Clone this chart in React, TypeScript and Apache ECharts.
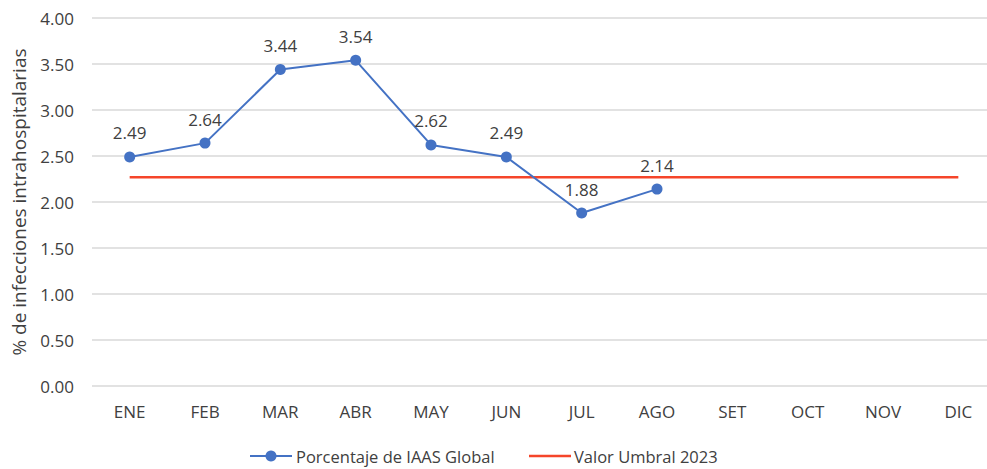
import React, { useEffect, useRef } from "react";
import * as echarts from "echarts";

const months = ["ENE", "FEB", "MAR", "ABR", "MAY", "JUN", "JUL", "AGO", "SET", "OCT", "NOV", "DIC"];
const iaasGlobal: (number | null)[] = [2.49, 2.64, 3.44, 3.54, 2.62, 2.49, 1.88, 2.14, null, null, null, null];
const threshold2023 = [2.27, 2.27, 2.27, 2.27, 2.27, 2.27, 2.27, 2.27, 2.27, 2.27, 2.27, 2.27];
const yTicks = { min: 0, max: 4, interval: 0.5 };
const seriesNames = ["Porcentaje de IAAS Global", "Valor Umbral 2023"];

const FONT = "Open Sans";
const TEXT = "#404040";
const BLUE = "#4472C4";
const RED = "#F5452A";

export default function App() {
  const ref = useRef<HTMLDivElement>(null);
  useEffect(() => {
    if (!ref.current) return;
    const chart = echarts.init(ref.current, null, { renderer: "svg" });
    const ly = 456;
    chart.setOption({
      animation: false,
      backgroundColor: "#ffffff",
      textStyle: { fontFamily: FONT },
      grid: { left: 92, width: 904, top: 18, bottom: 83, outerBoundsMode: "none", containLabel: false },
      legend: { show: false },
      graphic: [
        { type: "line", shape: { x1: 250, y1: ly, x2: 292, y2: ly }, style: { stroke: BLUE, lineWidth: 2 } },
        { type: "circle", shape: { cx: 271, cy: ly, r: 5.5 }, style: { fill: BLUE } },
        {
          type: "text",
          x: 296,
          y: ly,
          style: { text: seriesNames[0], fontFamily: FONT, fontSize: 16.5, fill: TEXT, verticalAlign: "middle" },
        },
        { type: "line", shape: { x1: 529, y1: ly, x2: 571, y2: ly }, style: { stroke: RED, lineWidth: 2.5 } },
        {
          type: "text",
          x: 574,
          y: ly,
          style: { text: seriesNames[1], fontFamily: FONT, fontSize: 16.5, fill: TEXT, verticalAlign: "middle" },
        },
      ],
      xAxis: {
        type: "category",
        data: months,
        boundaryGap: true,
        axisLine: { show: false },
        axisTick: { show: false },
        axisLabel: { fontFamily: FONT, fontSize: 17, color: TEXT, margin: 17 },
      },
      yAxis: {
        type: "value",
        min: yTicks.min,
        max: yTicks.max,
        interval: yTicks.interval,
        name: "% de infecciones intrahospitalarias",
        nameLocation: "middle",
        nameGap: 64,
        nameRotate: 90,
        nameTextStyle: { fontFamily: FONT, fontSize: 19, color: TEXT },
        axisLine: { show: false },
        axisTick: { show: false },
        axisLabel: {
          fontFamily: FONT,
          fontSize: 17,
          color: TEXT,
          margin: 18,
          formatter: (v: number) => v.toFixed(2),
        },
        splitLine: { lineStyle: { color: "#d9d9d9", width: 1.5 } },
      },
      series: [
        {
          name: seriesNames[0],
          type: "line",
          data: iaasGlobal,
          symbol: "circle",
          symbolSize: 11,
          itemStyle: { color: BLUE },
          lineStyle: { color: BLUE, width: 2 },
          label: {
            show: true,
            position: "top",
            distance: 10,
            fontFamily: FONT,
            fontSize: 17,
            color: TEXT,
            formatter: (p: any) => Number(p.value).toFixed(2),
          },
          z: 3,
        },
        {
          name: seriesNames[1],
          type: "line",
          data: threshold2023,
          symbol: "none",
          itemStyle: { color: RED },
          lineStyle: { color: RED, width: 2.5 },
          z: 2,
        },
      ],
    });
    return () => chart.dispose();
  }, []);
  return (
    <div
      ref={ref}
      style={{ position: "fixed", left: 0, top: 0, width: 987, height: 469, background: "#fff" }}
    />
  );
}
